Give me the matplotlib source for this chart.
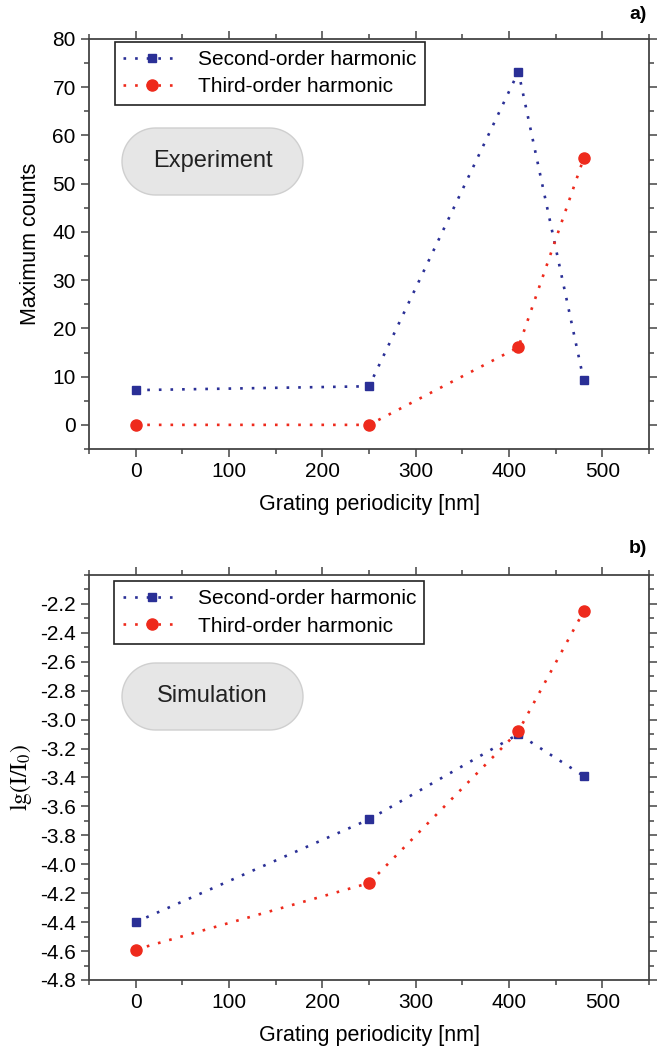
import matplotlib
matplotlib.use("Agg")
import numpy as np
import matplotlib.pyplot as plt
from matplotlib.patches import PathPatch
from matplotlib.path import Path
from matplotlib.ticker import MultipleLocator

plt.rcParams['font.family'] = ['Liberation Sans', 'DejaVu Sans']

# values
periods = [0, 250, 410, 480]
exp_second = [7.2, 8.0, 73.2, 9.2]
exp_third = [0.0, 0.0, 16.1, 55.3]
sim_second = [-4.40, -3.69, -3.10, -3.39]
sim_third = [-4.59, -4.13, -3.08, -2.25]

labels = ['Second-order harmonic', 'Third-order harmonic']
blue = '#2a2f96'
red = '#ee2a1c'
dots = (0, (1, 3.4))


def style_axes(ax, ymajor, yminor):
    ax.set_xlim(-50, 550)
    ax.xaxis.set_major_locator(MultipleLocator(100))
    ax.xaxis.set_minor_locator(MultipleLocator(50))
    ax.yaxis.set_major_locator(MultipleLocator(ymajor))
    ax.yaxis.set_minor_locator(MultipleLocator(yminor))
    ax.tick_params(which='both', direction='out', top=True, right=True,
                   color='#444444', width=1.1, labelsize=15)
    ax.tick_params(which='major', length=6)
    ax.tick_params(which='minor', length=3.5)
    for s in ax.spines.values():
        s.set_color('#444444')
        s.set_linewidth(1.3)
    ax.set_xlabel('Grating periodicity [nm]', fontsize=15.5, labelpad=9)


def draw(ax, y2, y3, anchor):
    ax.plot(periods, y2, linestyle=dots, lw=1.9, color=blue, marker='s',
            markersize=6, label=labels[0])
    ax.plot(periods, y3, linestyle=dots, lw=1.9, color=red, marker='o',
            markersize=8, label=labels[1])
    leg = ax.legend(loc='upper left', bbox_to_anchor=anchor, borderaxespad=0,
                    fontsize=15, numpoints=1, handlelength=2.8,
                    handletextpad=0.8, fancybox=False, framealpha=1,
                    borderpad=0.4, labelspacing=0.4)
    leg.get_frame().set_edgecolor('#222222')
    leg.get_frame().set_linewidth(1.2)


def pill_path(x0, y0, w, h):
    # stadium shape: two half circles joined by straight sides
    r = h / 2
    t = np.linspace(-np.pi / 2, np.pi / 2, 40)
    right = np.column_stack([x0 + w - r + r * np.cos(t), y0 + r + r * np.sin(t)])
    left = np.column_stack([x0 + r - r * np.cos(t), y0 + r - r * np.sin(t)])
    verts = np.vstack([right, left, right[:1]])
    codes = [Path.MOVETO] + [Path.LINETO] * (len(verts) - 2) + [Path.CLOSEPOLY]
    return Path(verts, codes)


fig = plt.figure(figsize=(6.59, 10.5), dpi=100)
ax1 = fig.add_axes([0.135, 0.5724, 0.850, 0.3905])
ax2 = fig.add_axes([0.135, 0.0667, 0.850, 0.3857])

draw(ax1, exp_second, exp_third, (0.046, 0.993))
ax1.set_ylim(-5, 80)
style_axes(ax1, 10, 5)
ax1.set_ylabel('Maximum counts', fontsize=15.5, labelpad=8)

draw(ax2, sim_second, sim_third, (0.045, 0.985))
ax2.set_ylim(-4.8, -2.0)
style_axes(ax2, 0.2, 0.1)
ax2.set_yticks([-2.2 - 0.2 * i for i in range(14)])
ax2.yaxis.set_major_formatter(matplotlib.ticker.FormatStrFormatter('%.1f'))
ax2.set_ylabel(r'$\mathrm{lg(I/I_0)}$', fontsize=17, labelpad=4,
               math_fontfamily='stix')

# pill shaped badges (inches from the lower left corner)
for text, y in [('Experiment', 8.55), ('Simulation', 3.20)]:
    pill = PathPatch(pill_path(1.22, y, 1.81, 0.67),
                     transform=fig.dpi_scale_trans,
                     facecolor='#e6e6e6', edgecolor='#cfcfcf', lw=1)
    fig.add_artist(pill)
    fig.text(2.125, y + 0.335, text, transform=fig.dpi_scale_trans,
             ha='center', va='center', fontsize=17, color='#222222')

fig.text(0.982, 0.986, 'a)', ha='right', va='center', fontsize=14,
         fontweight='bold')
fig.text(0.982, 0.478, 'b)', ha='right', va='center', fontsize=14,
         fontweight='bold')

fig.savefig('out.png', dpi=100)
